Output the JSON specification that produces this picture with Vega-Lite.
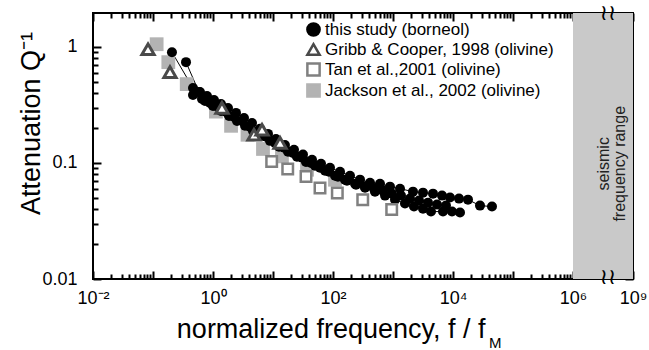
{
  "$schema": "https://vega.github.io/schema/vega-lite/v6.json",
  "width": 540,
  "height": 266,
  "autosize": "none",
  "padding": {"left": 93, "top": 13, "right": 16, "bottom": 71},
  "config": {
    "font": "Liberation Sans",
    "view": {"stroke": "black", "strokeWidth": 2},
    "axis": {"grid": false, "domain": false, "labelFont": "Liberation Sans", "labelColor": "black", "titleColor": "black", "tickColor": "black", "tickWidth": 2, "zindex": 1, "labelFontSize": 18, "titleFont": "Liberation Sans", "titleFontWeight": "normal", "titleFontSize": 27, "labelFlush": false, "labelOverlap": false},
    "legend": {"orient": "none", "legendX": 212, "legendY": 8, "labelFontSize": 17, "labelFont": "Liberation Sans", "labelColor": "black", "symbolSize": 150, "symbolStrokeWidth": 2.5, "rowPadding": -2, "padding": 0, "labelOffset": 3, "labelLimit": 400}
  },
  "datasets": {
    "pts": [
      {"series": "this study (borneol)", "run": 1, "f": 0.207, "q": 0.901},
      {"series": "this study (borneol)", "run": 1, "f": 0.464, "q": 0.442},
      {"series": "this study (borneol)", "run": 1, "f": 0.607, "q": 0.408},
      {"series": "this study (borneol)", "run": 1, "f": 0.794, "q": 0.377},
      {"series": "this study (borneol)", "run": 1, "f": 1.039, "q": 0.349},
      {"series": "this study (borneol)", "run": 1, "f": 1.359, "q": 0.322},
      {"series": "this study (borneol)", "run": 1, "f": 1.778, "q": 0.298},
      {"series": "this study (borneol)", "run": 1, "f": 2.416, "q": 0.270},
      {"series": "this study (borneol)", "run": 1, "f": 3.286, "q": 0.244},
      {"series": "this study (borneol)", "run": 1, "f": 4.467, "q": 0.221},
      {"series": "this study (borneol)", "run": 1, "f": 6.07, "q": 0.197},
      {"series": "this study (borneol)", "run": 1, "f": 8.25, "q": 0.178},
      {"series": "this study (borneol)", "run": 1, "f": 11.2, "q": 0.161},
      {"series": "this study (borneol)", "run": 1, "f": 15.8, "q": 0.143},
      {"series": "this study (borneol)", "run": 1, "f": 22.4, "q": 0.130},
      {"series": "this study (borneol)", "run": 1, "f": 31.6, "q": 0.118},
      {"series": "this study (borneol)", "run": 1, "f": 44.7, "q": 0.1065},
      {"series": "this study (borneol)", "run": 1, "f": 63.1, "q": 0.0985},
      {"series": "this study (borneol)", "run": 1, "f": 89.1, "q": 0.0909},
      {"series": "this study (borneol)", "run": 1, "f": 131, "q": 0.084},
      {"series": "this study (borneol)", "run": 1, "f": 192, "q": 0.0777},
      {"series": "this study (borneol)", "run": 1, "f": 282, "q": 0.0718},
      {"series": "this study (borneol)", "run": 1, "f": 414, "q": 0.0676},
      {"series": "this study (borneol)", "run": 1, "f": 607, "q": 0.0663},
      {"series": "this study (borneol)", "run": 1, "f": 891, "q": 0.0625},
      {"series": "this study (borneol)", "run": 1, "f": 1309, "q": 0.060},
      {"series": "this study (borneol)", "run": 1, "f": 2154, "q": 0.0566},
      {"series": "this study (borneol)", "run": 1, "f": 3162, "q": 0.0555},
      {"series": "this study (borneol)", "run": 1, "f": 4642, "q": 0.0544},
      {"series": "this study (borneol)", "run": 1, "f": 6556, "q": 0.0523},
      {"series": "this study (borneol)", "run": 1, "f": 8913, "q": 0.0503},
      {"series": "this study (borneol)", "run": 1, "f": 12589, "q": 0.0493},
      {"series": "this study (borneol)", "run": 1, "f": 17783, "q": 0.0483},
      {"series": "this study (borneol)", "run": 1, "f": 28184, "q": 0.0429},
      {"series": "this study (borneol)", "run": 1, "f": 44668, "q": 0.0421},
      {"series": "this study (borneol)", "run": 2, "f": 0.355, "q": 0.739},
      {"series": "this study (borneol)", "run": 2, "f": 0.585, "q": 0.408},
      {"series": "this study (borneol)", "run": 2, "f": 0.736, "q": 0.342},
      {"series": "this study (borneol)", "run": 2, "f": 1.0, "q": 0.31},
      {"series": "this study (borneol)", "run": 2, "f": 1.359, "q": 0.281},
      {"series": "this study (borneol)", "run": 2, "f": 1.848, "q": 0.254},
      {"series": "this study (borneol)", "run": 2, "f": 2.512, "q": 0.230},
      {"series": "this study (borneol)", "run": 2, "f": 3.415, "q": 0.209},
      {"series": "this study (borneol)", "run": 2, "f": 4.642, "q": 0.189},
      {"series": "this study (borneol)", "run": 2, "f": 6.31, "q": 0.171},
      {"series": "this study (borneol)", "run": 2, "f": 8.91, "q": 0.155},
      {"series": "this study (borneol)", "run": 2, "f": 12.6, "q": 0.138},
      {"series": "this study (borneol)", "run": 2, "f": 17.8, "q": 0.125},
      {"series": "this study (borneol)", "run": 2, "f": 25.1, "q": 0.113},
      {"series": "this study (borneol)", "run": 2, "f": 35.5, "q": 0.102},
      {"series": "this study (borneol)", "run": 2, "f": 50.1, "q": 0.0946},
      {"series": "this study (borneol)", "run": 2, "f": 73.6, "q": 0.0857},
      {"series": "this study (borneol)", "run": 2, "f": 108, "q": 0.0777},
      {"series": "this study (borneol)", "run": 2, "f": 158, "q": 0.0718},
      {"series": "this study (borneol)", "run": 2, "f": 233, "q": 0.0663},
      {"series": "this study (borneol)", "run": 2, "f": 342, "q": 0.0612},
      {"series": "this study (borneol)", "run": 2, "f": 501, "q": 0.0566},
      {"series": "this study (borneol)", "run": 2, "f": 736, "q": 0.0523},
      {"series": "this study (borneol)", "run": 2, "f": 1080, "q": 0.0483},
      {"series": "this study (borneol)", "run": 2, "f": 1585, "q": 0.0447},
      {"series": "this study (borneol)", "run": 2, "f": 2239, "q": 0.0421},
      {"series": "this study (borneol)", "run": 2, "f": 3162, "q": 0.0404},
      {"series": "this study (borneol)", "run": 2, "f": 4299, "q": 0.0381},
      {"series": "this study (borneol)", "run": 2, "f": 6813, "q": 0.0381},
      {"series": "this study (borneol)", "run": 2, "f": 9624, "q": 0.0381},
      {"series": "this study (borneol)", "run": 2, "f": 13083, "q": 0.0374},
      {"series": "this study (borneol)", "run": 3, "f": 0.464, "q": 0.385},
      {"series": "this study (borneol)", "run": 3, "f": 0.656, "q": 0.356},
      {"series": "this study (borneol)", "run": 3, "f": 0.891, "q": 0.329},
      {"series": "this study (borneol)", "run": 3, "f": 1.212, "q": 0.304},
      {"series": "this study (borneol)", "run": 3, "f": 1.647, "q": 0.275},
      {"series": "this study (borneol)", "run": 3, "f": 2.239, "q": 0.249},
      {"series": "this study (borneol)", "run": 3, "f": 3.042, "q": 0.230},
      {"series": "this study (borneol)", "run": 3, "f": 4.139, "q": 0.2045},
      {"series": "this study (borneol)", "run": 3, "f": 5.623, "q": 0.185},
      {"series": "this study (borneol)", "run": 3, "f": 7.64, "q": 0.168},
      {"series": "this study (borneol)", "run": 3, "f": 10.8, "q": 0.149},
      {"series": "this study (borneol)", "run": 3, "f": 15.3, "q": 0.135},
      {"series": "this study (borneol)", "run": 3, "f": 21.5, "q": 0.122},
      {"series": "this study (borneol)", "run": 3, "f": 30.4, "q": 0.111},
      {"series": "this study (borneol)", "run": 3, "f": 43.0, "q": 0.100},
      {"series": "this study (borneol)", "run": 3, "f": 60.7, "q": 0.0909},
      {"series": "this study (borneol)", "run": 3, "f": 85.8, "q": 0.084},
      {"series": "this study (borneol)", "run": 3, "f": 121, "q": 0.0761},
      {"series": "this study (borneol)", "run": 3, "f": 171, "q": 0.0704},
      {"series": "this study (borneol)", "run": 3, "f": 242, "q": 0.065},
      {"series": "this study (borneol)", "run": 3, "f": 342, "q": 0.0625},
      {"series": "this study (borneol)", "run": 3, "f": 482, "q": 0.060},
      {"series": "this study (borneol)", "run": 3, "f": 681, "q": 0.0577},
      {"series": "this study (borneol)", "run": 3, "f": 962, "q": 0.0544},
      {"series": "this study (borneol)", "run": 3, "f": 1359, "q": 0.0523},
      {"series": "this study (borneol)", "run": 3, "f": 1920, "q": 0.0493},
      {"series": "this study (borneol)", "run": 3, "f": 2713, "q": 0.0474},
      {"series": "this study (borneol)", "run": 3, "f": 3831, "q": 0.0455},
      {"series": "this study (borneol)", "run": 3, "f": 5412, "q": 0.0438},
      {"series": "this study (borneol)", "run": 3, "f": 7640, "q": 0.0429},
      {"series": "Gribb & Cooper, 1998 (olivine)", "run": 0, "f": 0.0826, "q": 0.956},
      {"series": "Gribb & Cooper, 1998 (olivine)", "run": 0, "f": 0.192, "q": 0.607},
      {"series": "Gribb & Cooper, 1998 (olivine)", "run": 0, "f": 1.41, "q": 0.298},
      {"series": "Gribb & Cooper, 1998 (olivine)", "run": 0, "f": 4.82, "q": 0.175},
      {"series": "Gribb & Cooper, 1998 (olivine)", "run": 0, "f": 6.56, "q": 0.193},
      {"series": "Gribb & Cooper, 1998 (olivine)", "run": 0, "f": 13.1, "q": 0.149},
      {"series": "Tan et al.,2001 (olivine)", "run": 0, "f": 9.5, "q": 0.103},
      {"series": "Tan et al.,2001 (olivine)", "run": 0, "f": 17.6, "q": 0.0887},
      {"series": "Tan et al.,2001 (olivine)", "run": 0, "f": 35.5, "q": 0.0766},
      {"series": "Tan et al.,2001 (olivine)", "run": 0, "f": 60.7, "q": 0.0609},
      {"series": "Tan et al.,2001 (olivine)", "run": 0, "f": 118, "q": 0.0551},
      {"series": "Tan et al.,2001 (olivine)", "run": 0, "f": 313, "q": 0.0483},
      {"series": "Tan et al.,2001 (olivine)", "run": 0, "f": 951, "q": 0.0397},
      {"series": "Jackson et al., 2002 (olivine)", "run": 0, "f": 0.115, "q": 1.055},
      {"series": "Jackson et al., 2002 (olivine)", "run": 0, "f": 0.180, "q": 0.739},
      {"series": "Jackson et al., 2002 (olivine)", "run": 0, "f": 0.365, "q": 0.478},
      {"series": "Jackson et al., 2002 (olivine)", "run": 0, "f": 1.12, "q": 0.277},
      {"series": "Jackson et al., 2002 (olivine)", "run": 0, "f": 2.0, "q": 0.209},
      {"series": "Jackson et al., 2002 (olivine)", "run": 0, "f": 3.76, "q": 0.175},
      {"series": "Jackson et al., 2002 (olivine)", "run": 0, "f": 6.81, "q": 0.132},
      {"series": "Jackson et al., 2002 (olivine)", "run": 0, "f": 14.1, "q": 0.114},
      {"series": "Jackson et al., 2002 (olivine)", "run": 0, "f": 36.9, "q": 0.0874},
      {"series": "Jackson et al., 2002 (olivine)", "run": 0, "f": 108, "q": 0.0717}
    ]
  },
  "data": {"name": "pts"},
  "layer": [
    {
      "data": {"values": [{}]},
      "mark": {"type": "rect", "color": "#c9c9c9"},
      "encoding": {
        "x": {"datum": 1000000, "scale": {"type": "log", "domain": [0.01, 1000000, 1000000000], "range": [0, 480, 540], "nice": false}, "axis": null},
        "x2": {"datum": 1000000000},
        "y": {"datum": 0.01, "scale": {"type": "log", "domain": [0.01, 1.96], "nice": false}, "axis": null},
        "y2": {"datum": 1.96}
      }
    },
    {
      "transform": [{"filter": "datum.series == 'this study (borneol)'"}],
      "mark": {"type": "line", "color": "black", "strokeWidth": 1},
      "encoding": {
        "x": {"field": "f", "type": "quantitative", "scale": {"type": "log", "domain": [0.01, 1000000, 1000000000], "range": [0, 480, 540], "nice": false}, "axis": null},
        "y": {"field": "q", "type": "quantitative", "scale": {"type": "log", "domain": [0.01, 1.96], "nice": false}, "axis": null},
        "detail": {"field": "run", "type": "nominal"}
      }
    },
    {
      "transform": [{"filter": "datum.series == 'Jackson et al., 2002 (olivine)'"}],
      "mark": {"type": "point", "filled": true, "opacity": 1, "size": 190, "strokeWidth": 0},
      "encoding": {
        "x": {"field": "f", "type": "quantitative", "scale": {"type": "log", "domain": [0.01, 1000000, 1000000000], "range": [0, 480, 540], "nice": false},
          "axis": {"orient": "bottom", "values": [0.01, 0.1, 1, 10, 100, 1000, 10000, 100000, 1000000, 1000000000], "offset": -8, "tickSize": 8, "labelPadding": 10,
            "labelExpr": "datum.value == 0.01 ? '10⁻²' : datum.value == 1 ? '10⁰' : datum.value == 100 ? '10²' : datum.value == 10000 ? '10⁴' : datum.value == 1000000 ? '10⁶' : datum.value == 1000000000 ? '10⁹' : ''",
            "title": "normalized frequency, f / f", "titleX": 392, "titleY": 66, "titleAlign": "right", "titleBaseline": "alphabetic"}},
        "y": {"field": "q", "type": "quantitative", "scale": {"type": "log", "domain": [0.01, 1.96], "nice": false},
          "axis": {"orient": "left", "values": [0.01, 0.1, 1], "offset": -8, "tickSize": 8, "labelPadding": 16,
            "labelExpr": "datum.value >= 0.5 ? '1' : datum.value >= 0.05 ? '0.1' : '0.01'",
            "title": "Attenuation Q⁻¹", "titleX": -70, "titleY": 110, "titleAlign": "center", "titleBaseline": "middle", "titleAngle": 270}},
        "shape": {"field": "series", "type": "nominal", "title": null, "scale": {"domain": ["this study (borneol)", "Gribb & Cooper, 1998 (olivine)", "Tan et al.,2001 (olivine)", "Jackson et al., 2002 (olivine)"], "range": ["circle", "triangle-up", "square", "square"]}},
        "fill": {"field": "series", "type": "nominal", "title": null, "scale": {"domain": ["this study (borneol)", "Gribb & Cooper, 1998 (olivine)", "Tan et al.,2001 (olivine)", "Jackson et al., 2002 (olivine)"], "range": ["black", "white", "white", "#b3b3b3"]}},
        "stroke": {"field": "series", "type": "nominal", "title": null, "scale": {"domain": ["this study (borneol)", "Gribb & Cooper, 1998 (olivine)", "Tan et al.,2001 (olivine)", "Jackson et al., 2002 (olivine)"], "range": ["black", "#4a4a4a", "#808080", "#b3b3b3"]}}
      }
    },
    {
      "transform": [{"filter": "datum.series == 'this study (borneol)'"}],
      "mark": {"type": "point", "filled": true, "opacity": 1, "size": 100, "strokeWidth": 0},
      "encoding": {
        "x": {"field": "f", "type": "quantitative", "scale": {"type": "log", "domain": [0.01, 1000000, 1000000000], "range": [0, 480, 540], "nice": false},
          "axis": {"orient": "bottom", "labels": false, "title": null, "offset": -5, "tickSize": 5, "values": [0.02,0.03,0.04,0.05,0.06,0.07,0.08,0.09,0.2,0.3,0.4,0.5,0.6,0.7,0.8,0.9,2,3,4,5,6,7,8,9,20,30,40,50,60,70,80,90,200,300,400,500,600,700,800,900,2000,3000,4000,5000,6000,7000,8000,9000,20000,30000,40000,50000,60000,70000,80000,90000,200000,300000,400000,500000,600000,700000,800000,900000,200000000,300000000,400000000,500000000,600000000,700000000,800000000,900000000]}},
        "y": {"field": "q", "type": "quantitative", "scale": {"type": "log", "domain": [0.01, 1.96], "nice": false},
          "axis": {"orient": "left", "labels": false, "title": null, "offset": -5, "tickSize": 5, "values": [0.02,0.03,0.04,0.05,0.06,0.07,0.08,0.09,0.2,0.3,0.4,0.5,0.6,0.7,0.8,0.9]}},
        "shape": {"field": "series", "type": "nominal", "title": null, "scale": {"domain": ["this study (borneol)", "Gribb & Cooper, 1998 (olivine)", "Tan et al.,2001 (olivine)", "Jackson et al., 2002 (olivine)"], "range": ["circle", "triangle-up", "square", "square"]}},
        "fill": {"field": "series", "type": "nominal", "title": null, "scale": {"domain": ["this study (borneol)", "Gribb & Cooper, 1998 (olivine)", "Tan et al.,2001 (olivine)", "Jackson et al., 2002 (olivine)"], "range": ["black", "white", "white", "#b3b3b3"]}},
        "stroke": {"field": "series", "type": "nominal", "title": null, "scale": {"domain": ["this study (borneol)", "Gribb & Cooper, 1998 (olivine)", "Tan et al.,2001 (olivine)", "Jackson et al., 2002 (olivine)"], "range": ["black", "#4a4a4a", "#808080", "#b3b3b3"]}}
      }
    },
    {
      "transform": [{"filter": "datum.series == 'Tan et al.,2001 (olivine)'"}],
      "mark": {"type": "point", "filled": true, "opacity": 1, "size": 110, "strokeWidth": 2.5},
      "encoding": {
        "x": {"field": "f", "type": "quantitative", "scale": {"type": "log", "domain": [0.01, 1000000, 1000000000], "range": [0, 480, 540], "nice": false},
          "axis": {"orient": "top", "labels": false, "title": null, "offset": -8, "tickSize": 8, "values": [0.01, 0.1, 1, 10, 100, 1000, 10000, 100000, 1000000, 1000000000]}},
        "y": {"field": "q", "type": "quantitative", "scale": {"type": "log", "domain": [0.01, 1.96], "nice": false},
          "axis": {"orient": "right", "labels": false, "title": null, "offset": -8, "tickSize": 8, "values": [0.01, 0.1, 1]}},
        "shape": {"field": "series", "type": "nominal", "title": null, "scale": {"domain": ["this study (borneol)", "Gribb & Cooper, 1998 (olivine)", "Tan et al.,2001 (olivine)", "Jackson et al., 2002 (olivine)"], "range": ["circle", "triangle-up", "square", "square"]}},
        "fill": {"field": "series", "type": "nominal", "title": null, "scale": {"domain": ["this study (borneol)", "Gribb & Cooper, 1998 (olivine)", "Tan et al.,2001 (olivine)", "Jackson et al., 2002 (olivine)"], "range": ["black", "white", "white", "#b3b3b3"]}},
        "stroke": {"field": "series", "type": "nominal", "title": null, "scale": {"domain": ["this study (borneol)", "Gribb & Cooper, 1998 (olivine)", "Tan et al.,2001 (olivine)", "Jackson et al., 2002 (olivine)"], "range": ["black", "#4a4a4a", "#808080", "#b3b3b3"]}}
      }
    },
    {
      "transform": [{"filter": "datum.series == 'Gribb & Cooper, 1998 (olivine)'"}],
      "mark": {"type": "point", "filled": true, "opacity": 1, "size": 150, "strokeWidth": 3},
      "encoding": {
        "x": {"field": "f", "type": "quantitative", "scale": {"type": "log", "domain": [0.01, 1000000, 1000000000], "range": [0, 480, 540], "nice": false},
          "axis": {"orient": "top", "labels": false, "title": null, "offset": -5, "tickSize": 5, "values": [0.02,0.03,0.04,0.05,0.06,0.07,0.08,0.09,0.2,0.3,0.4,0.5,0.6,0.7,0.8,0.9,2,3,4,5,6,7,8,9,20,30,40,50,60,70,80,90,200,300,400,500,600,700,800,900,2000,3000,4000,5000,6000,7000,8000,9000,20000,30000,40000,50000,60000,70000,80000,90000,200000,300000,400000,500000,600000,700000,800000,900000,200000000,300000000,400000000,500000000,600000000,700000000,800000000,900000000]}},
        "y": {"field": "q", "type": "quantitative", "scale": {"type": "log", "domain": [0.01, 1.96], "nice": false},
          "axis": {"orient": "right", "labels": false, "title": null, "offset": -5, "tickSize": 5, "values": [0.02,0.03,0.04,0.05,0.06,0.07,0.08,0.09,0.2,0.3,0.4,0.5,0.6,0.7,0.8,0.9]}},
        "shape": {"field": "series", "type": "nominal", "title": null, "scale": {"domain": ["this study (borneol)", "Gribb & Cooper, 1998 (olivine)", "Tan et al.,2001 (olivine)", "Jackson et al., 2002 (olivine)"], "range": ["circle", "triangle-up", "square", "square"]}},
        "fill": {"field": "series", "type": "nominal", "title": null, "scale": {"domain": ["this study (borneol)", "Gribb & Cooper, 1998 (olivine)", "Tan et al.,2001 (olivine)", "Jackson et al., 2002 (olivine)"], "range": ["black", "white", "white", "#b3b3b3"]}},
        "stroke": {"field": "series", "type": "nominal", "title": null, "scale": {"domain": ["this study (borneol)", "Gribb & Cooper, 1998 (olivine)", "Tan et al.,2001 (olivine)", "Jackson et al., 2002 (olivine)"], "range": ["black", "#4a4a4a", "#808080", "#b3b3b3"]}}
      }
    },
    {
      "data": {"values": [{}]},
      "mark": {"type": "text", "text": ["seismic", "frequency range"], "angle": 270, "align": "center", "baseline": "middle", "fontSize": 16, "font": "Liberation Sans", "color": "#222222", "lineHeight": 16},
      "encoding": {
        "x": {"datum": 35500000, "axis": null},
        "y": {"datum": 0.0984, "axis": null}
      }
    },
    {
      "data": {"values": [{}]},
      "mark": {"type": "text", "text": "M", "align": "left", "baseline": "alphabetic", "fontSize": 15, "font": "Liberation Sans", "color": "black"},
      "encoding": {
        "x": {"datum": 40000, "axis": null},
        "y": {"datum": 0.00254, "axis": null}
      }
    },
    {
      "data": {"values": [{}]},
      "mark": {"type": "text", "text": "≀≀", "align": "center", "baseline": "middle", "fontSize": 22, "font": "DejaVu Sans", "color": "black"},
      "encoding": {
        "x": {"datum": 56000000, "axis": null},
        "y": {"datum": 0.0105, "axis": null}
      }
    },
    {
      "data": {"values": [{}]},
      "mark": {"type": "text", "text": "≀≀", "align": "center", "baseline": "middle", "fontSize": 22, "font": "DejaVu Sans", "color": "black"},
      "encoding": {
        "x": {"datum": 56000000, "axis": null},
        "y": {"datum": 1.96, "axis": null}
      }
    }
  ],
  "resolve": {"axis": {"x": "independent", "y": "independent"}}
}
